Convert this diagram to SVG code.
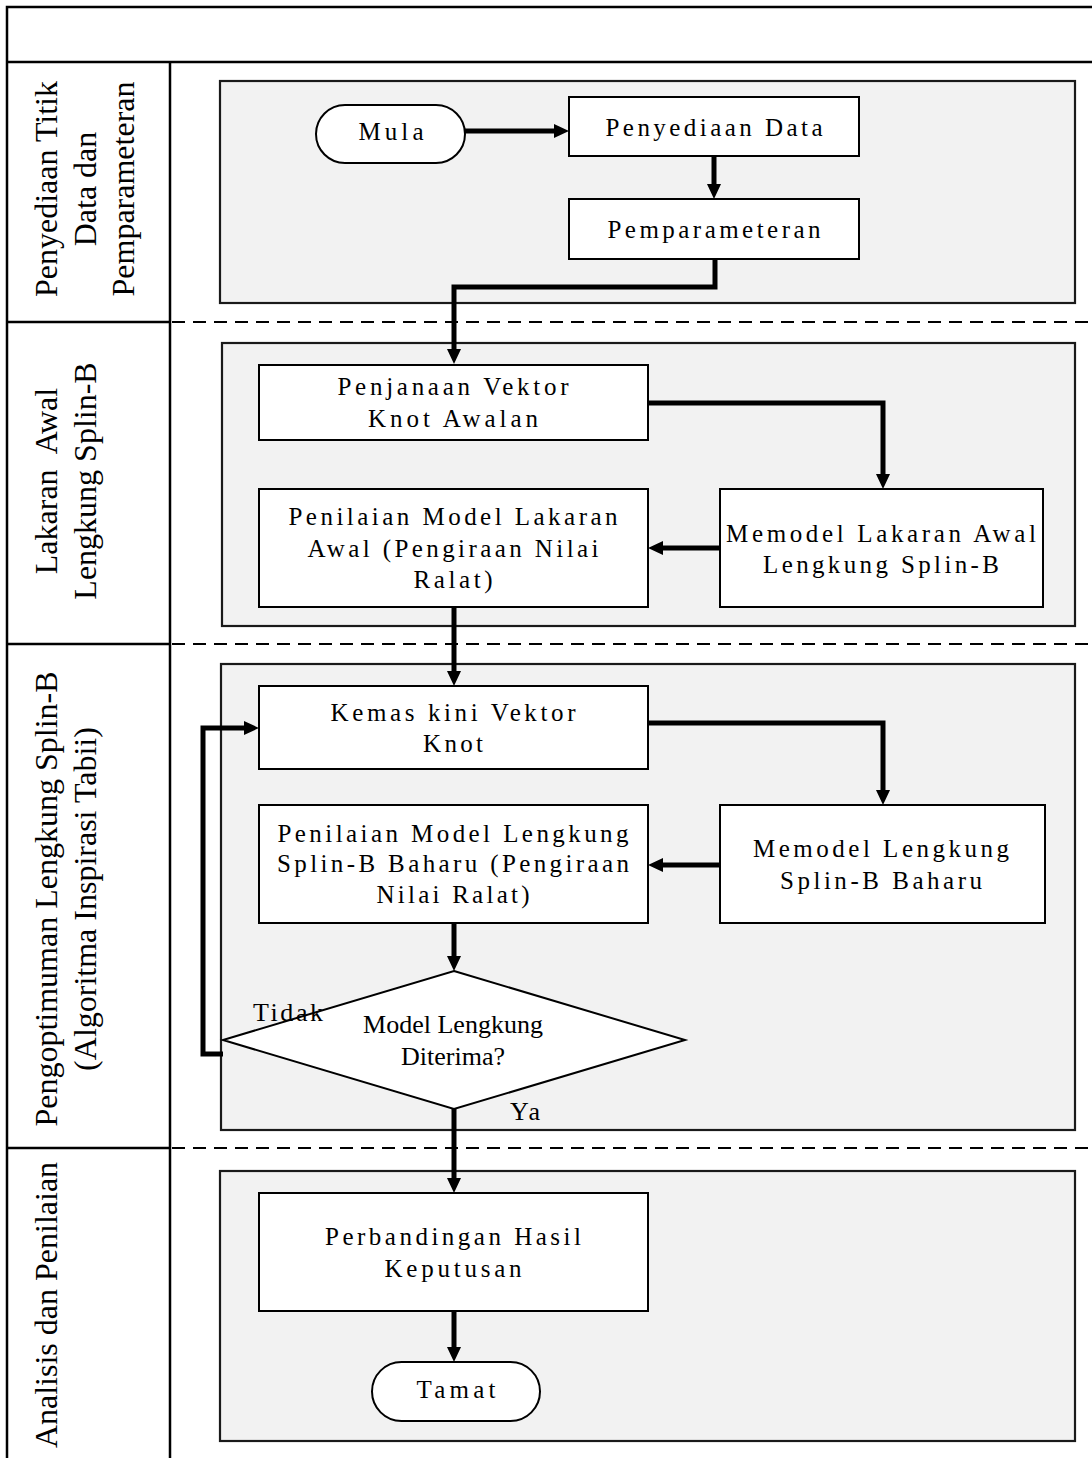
<svg xmlns="http://www.w3.org/2000/svg" width="1092" height="1458" viewBox="0 0 1092 1458">
<style>
.frame{fill:none;stroke:#000;stroke-width:2.5}
.dash{fill:none;stroke:#000;stroke-width:2;stroke-dasharray:13 8}
.panel{fill:#f2f2f2;stroke:#1a1a1a;stroke-width:2.2}
.box{fill:#fff;stroke:#000;stroke-width:2}
.conn{fill:none;stroke:#000;stroke-width:5;stroke-linejoin:miter}
.lane{font-family:"Liberation Serif","Times New Roman",serif;font-size:32px;fill:#000}
.t{font-family:"Liberation Serif","Times New Roman",serif;font-size:25px;fill:#000;text-anchor:middle}
.d{font-family:"Liberation Serif","Times New Roman",serif;font-size:26px;fill:#000}
</style>
<defs>
<marker id="ah" viewBox="0 0 15 14" refX="3" refY="7" markerWidth="15" markerHeight="14" markerUnits="userSpaceOnUse" orient="auto">
<path d="M0,0 L15,7 L0,14 z" fill="#000"/>
</marker>
</defs>

<g id="frame">
<path class="frame" d="M7,1458 V7 H1092"/>
<path class="frame" d="M7,62 H1092"/>
<path class="frame" d="M170,62 V1458"/>
<path class="frame" d="M7,322 H170 M7,644 H170 M7,1148 H170"/>
<path class="dash" d="M172,322 H1092 M172,644 H1092 M172,1148 H1092"/>
</g>

<g id="lane-labels" class="lane" text-anchor="middle">
<g id="lane1-label" transform="translate(0,189) rotate(-90)">
<text x="0" y="57">Penyediaan Titik</text>
<text x="0" y="96">Data dan</text>
<text x="0" y="134">Pemparameteran</text>
</g>
<g id="lane2-label" transform="translate(0,481) rotate(-90)">
<text x="0" y="57" word-spacing="9">Lakaran Awal</text>
<text x="0" y="96">Lengkung Splin-B</text>
</g>
<g id="lane3-label" transform="translate(0,899) rotate(-90)">
<text x="0" y="57">Pengoptimuman Lengkung Splin-B</text>
<text x="0" y="96">(Algoritma Inspirasi Tabii)</text>
</g>
<g id="lane4-label" transform="translate(0,1305) rotate(-90)">
<text x="0" y="57">Analisis dan Penilaian</text>
</g>
</g>

<g id="panels">
<rect id="panel1" class="panel" x="220" y="81" width="855" height="222"/>
<rect id="panel2" class="panel" x="222" y="343" width="853" height="283"/>
<rect id="panel3" class="panel" x="221" y="664" width="854" height="466"/>
<rect id="panel4" class="panel" x="220" y="1171" width="855" height="270"/>
</g>

<g id="connectors">
<path class="conn" d="M465,131 H557" marker-end="url(#ah)"/>
<path class="conn" d="M714,156 V187" marker-end="url(#ah)"/>
<path class="conn" d="M715,259 V287 H454 V352" marker-end="url(#ah)"/>
<path class="conn" d="M648,403 H883 V477" marker-end="url(#ah)"/>
<path class="conn" d="M720,548 H660" marker-end="url(#ah)"/>
<path class="conn" d="M454,607 V674" marker-end="url(#ah)"/>
<path class="conn" d="M648,723 H883 V793" marker-end="url(#ah)"/>
<path class="conn" d="M720,865 H660" marker-end="url(#ah)"/>
<path class="conn" d="M454,923 V959" marker-end="url(#ah)"/>
<path class="conn" d="M223,1054 H203 V728 H247" marker-end="url(#ah)"/>
<path class="conn" d="M454,1109 V1181" marker-end="url(#ah)"/>
<path class="conn" d="M454,1311 V1350" marker-end="url(#ah)"/>
</g>

<g id="mula">
<rect class="box" x="316" y="105" width="149" height="58" rx="29"/>
<text class="t" x="391" y="140" textLength="65" lengthAdjust="spacing">Mula</text>
</g>
<g id="penyediaan-data">
<rect class="box" x="569" y="97" width="290" height="59"/>
<text class="t" x="714" y="136" textLength="217" lengthAdjust="spacing">Penyediaan Data</text>
</g>
<g id="pemparameteran">
<rect class="box" x="569" y="199" width="290" height="60"/>
<text class="t" x="714" y="238" textLength="213" lengthAdjust="spacing">Pemparameteran</text>
</g>
<g id="penjanaan">
<rect class="box" x="259" y="365" width="389" height="75"/>
<text class="t" x="453" y="395" textLength="231" lengthAdjust="spacing">Penjanaan Vektor</text>
<text class="t" x="453" y="427" textLength="170" lengthAdjust="spacing">Knot Awalan</text>
</g>
<g id="memodel-lakaran">
<rect class="box" x="720" y="489" width="323" height="118"/>
<text class="t" x="881" y="542" textLength="310" lengthAdjust="spacing">Memodel Lakaran Awal</text>
<text class="t" x="881" y="573" textLength="236" lengthAdjust="spacing">Lengkung Splin-B</text>
</g>
<g id="penilaian-lakaran">
<rect class="box" x="259" y="489" width="389" height="118"/>
<text class="t" x="453" y="525" textLength="329" lengthAdjust="spacing">Penilaian Model Lakaran</text>
<text class="t" x="453" y="557" textLength="291" lengthAdjust="spacing">Awal (Pengiraan Nilai</text>
<text class="t" x="453" y="588" textLength="79" lengthAdjust="spacing">Ralat)</text>
</g>
<g id="kemas-kini">
<rect class="box" x="259" y="686" width="389" height="83"/>
<text class="t" x="453" y="721" textLength="245" lengthAdjust="spacing">Kemas kini Vektor</text>
<text class="t" x="453" y="752" textLength="60" lengthAdjust="spacing">Knot</text>
</g>
<g id="memodel-baharu">
<rect class="box" x="720" y="805" width="325" height="118"/>
<text class="t" x="881" y="857" textLength="256" lengthAdjust="spacing">Memodel Lengkung</text>
<text class="t" x="881" y="889" textLength="202" lengthAdjust="spacing">Splin-B Baharu</text>
</g>
<g id="penilaian-baharu">
<rect class="box" x="259" y="805" width="389" height="118"/>
<text class="t" x="453" y="842" textLength="351" lengthAdjust="spacing">Penilaian Model Lengkung</text>
<text class="t" x="453" y="872" textLength="352" lengthAdjust="spacing">Splin-B Baharu (Pengiraan</text>
<text class="t" x="453" y="903" textLength="153" lengthAdjust="spacing">Nilai Ralat)</text>
</g>
<g id="keputusan">
<polygon class="box" points="454,971 685,1040 454,1109 223,1040"/>
<text class="d" x="453" y="1033" text-anchor="middle">Model Lengkung</text>
<text class="d" x="453" y="1065" text-anchor="middle">Diterima?</text>
<text class="d" x="253" y="1021" textLength="70" lengthAdjust="spacing">Tidak</text>
<text class="d" x="510" y="1120" textLength="30" lengthAdjust="spacing">Ya</text>
</g>
<g id="perbandingan">
<rect class="box" x="259" y="1193" width="389" height="118"/>
<text class="t" x="453" y="1245" textLength="256" lengthAdjust="spacing">Perbandingan Hasil</text>
<text class="t" x="453" y="1277" textLength="137" lengthAdjust="spacing">Keputusan</text>
</g>
<g id="tamat">
<rect class="box" x="372" y="1362" width="168" height="59" rx="29.5"/>
<text class="t" x="456" y="1398" textLength="79" lengthAdjust="spacing">Tamat</text>
</g>
</svg>
